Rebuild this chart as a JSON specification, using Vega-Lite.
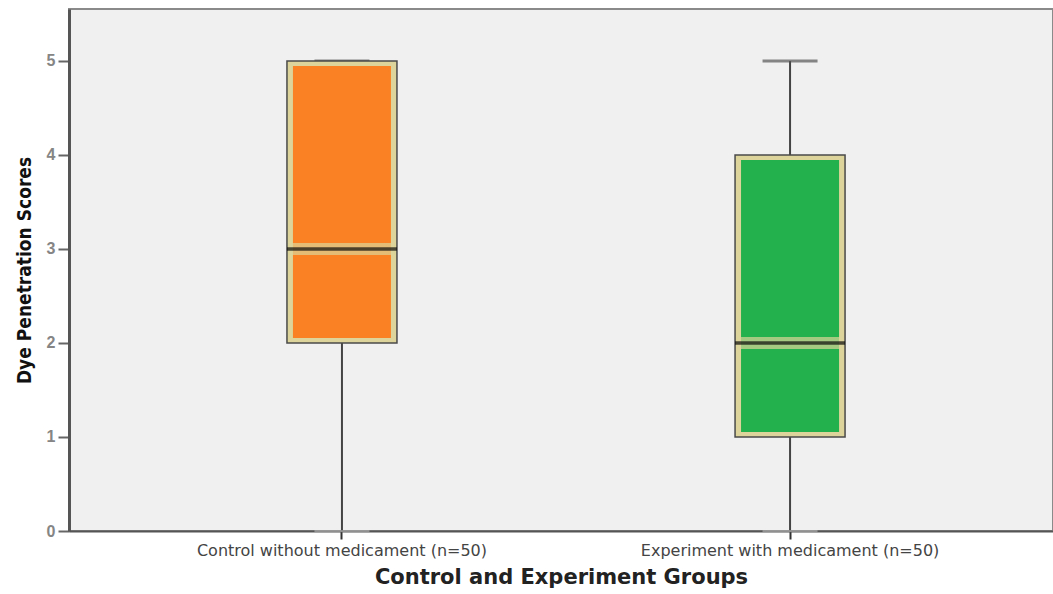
{
  "$schema": "https://vega.github.io/schema/vega-lite/v6.json",
  "autosize": "none",
  "width": 984,
  "height": 522,
  "padding": {"left": 69, "top": 9, "right": 0, "bottom": 63},
  "background": "#ffffff",
  "config": {
    "view": {"fill": "#f0f0f0", "stroke": "#8a8a8a", "strokeWidth": 2}
  },
  "data": {
    "values": [
      {"group": "Control without medicament (n=50)", "min": 0, "q1": 2, "median": 3, "q3": 5, "max": 5, "fill": "#fb8224"},
      {"group": "Experiment with medicament (n=50)", "min": 0, "q1": 1, "median": 2, "q3": 4, "max": 5, "fill": "#22b14c"}
    ]
  },
  "encoding": {
    "x": {
      "field": "group",
      "type": "nominal",
      "sort": null,
      "scale": {"paddingInner": 0, "paddingOuter": 0.098, "align": 0.557},
      "axis": {
        "title": "Control and Experiment Groups",
        "titleFont": "DejaVu Sans",
        "titleFontSize": 21,
        "titleFontWeight": "bold",
        "titleColor": "#222222",
        "titlePadding": 8,
        "labelFont": "DejaVu Sans",
        "labelFontSize": 16,
        "labelColor": "#444444",
        "labelAngle": 0,
        "labelPadding": 3,
        "labelLimit": 0,
        "domainColor": "#555555",
        "domainWidth": 2,
        "tickColor": "#333333",
        "tickWidth": 2,
        "tickSize": 8
      }
    }
  },
  "layer": [
    {
      "mark": {"type": "rule", "color": "#444444", "strokeWidth": 2},
      "encoding": {
        "y": {
          "field": "min",
          "type": "quantitative",
          "scale": {"domain": [0, 5.553], "nice": false, "zero": false},
          "axis": {
            "title": "Dye Penetration Scores",
            "titleFont": "DejaVu Sans Condensed",
            "titleFontSize": 19,
            "titleFontWeight": "bold",
            "titleColor": "#111111",
            "titlePadding": 12,
            "values": [0, 1, 2, 3, 4, 5],
            "format": "d",
            "labelFont": "Liberation Sans",
            "labelFontSize": 16,
            "labelFontWeight": "bold",
            "labelColor": "#858585",
            "labelPadding": 3,
            "tickSize": 11,
            "tickColor": "#666666",
            "tickWidth": 2,
            "domainColor": "#555555",
            "domainWidth": 3,
            "grid": false
          }
        },
        "y2": {"field": "max"}
      }
    },
    {
      "mark": {"type": "tick", "color": "#aaaaaa", "size": 55, "thickness": 2},
      "encoding": {"y": {"field": "min", "type": "quantitative"}}
    },
    {
      "mark": {"type": "tick", "color": "#555555", "size": 55, "thickness": 3},
      "encoding": {"y": {"field": "max", "type": "quantitative"}}
    },
    {
      "mark": {"type": "bar", "size": 110, "fill": "#dcd49a", "stroke": "#4a4a4a", "strokeWidth": 1.5},
      "encoding": {
        "y": {"field": "q1", "type": "quantitative"},
        "y2": {"field": "q3"}
      }
    },
    {
      "mark": {"type": "bar", "size": 98, "yOffset": -5, "y2Offset": 5},
      "encoding": {
        "y": {"field": "q1", "type": "quantitative"},
        "y2": {"field": "q3"},
        "fill": {"field": "fill", "type": "nominal", "scale": null}
      }
    },
    {
      "mark": {"type": "tick", "color": "#dcd49a", "size": 106, "thickness": 12},
      "encoding": {"y": {"field": "median", "type": "quantitative"}}
    },
    {
      "mark": {"type": "tick", "color": "#0a0a0a", "size": 110, "thickness": 3.5},
      "encoding": {"y": {"field": "median", "type": "quantitative"}}
    }
  ]
}
